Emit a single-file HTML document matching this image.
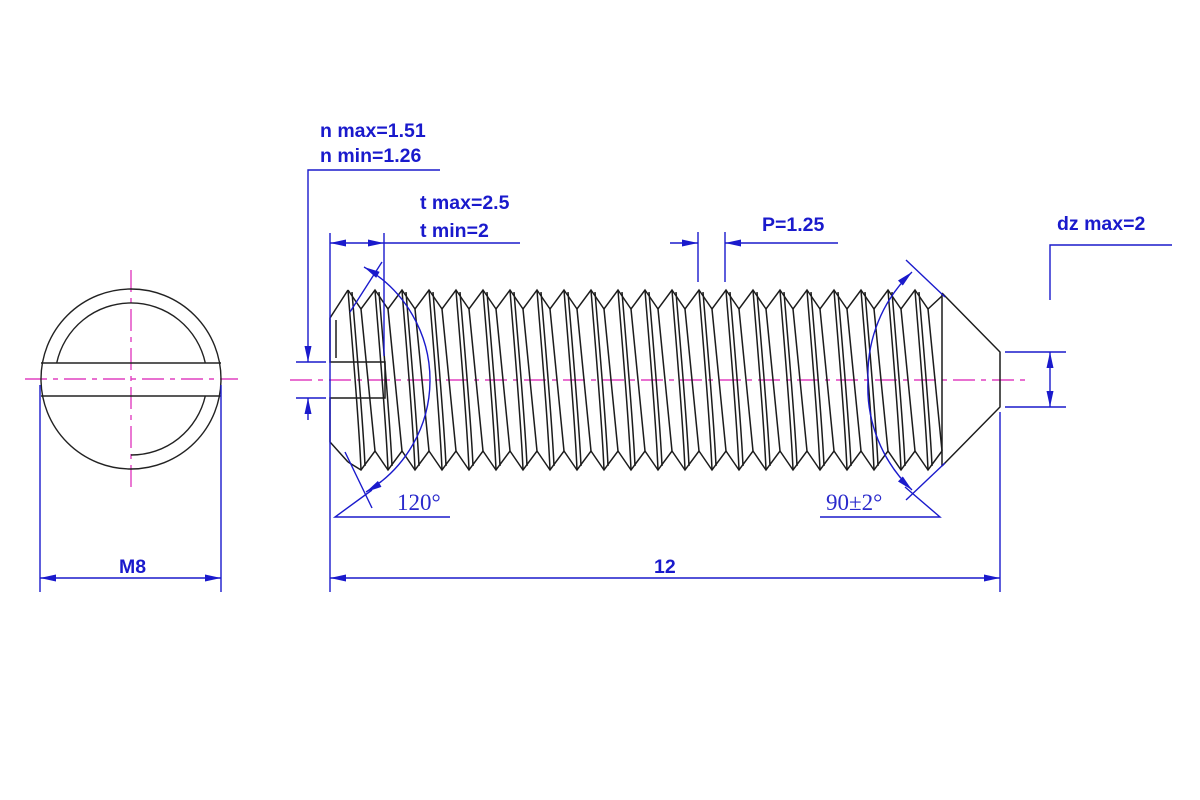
<!DOCTYPE html>
<html><head><meta charset="utf-8"><style>
html,body{margin:0;padding:0;background:#fff}
svg{display:block}
.d{font-family:"Liberation Sans",Arial,sans-serif;font-weight:bold;font-size:19.5px;fill:#1a1acc}
.s{font-family:"Liberation Serif",serif;font-size:23px;fill:#2a2acc}
</style></head><body>
<svg id="s" width="1200" height="800" viewBox="0 0 1200 800" xmlns="http://www.w3.org/2000/svg">
<defs>
<marker id="a" viewBox="0 0 16 7" refX="16" refY="3.5" markerWidth="16" markerHeight="7" markerUnits="userSpaceOnUse" orient="auto-start-reverse"><path d="M0,0 L16,3.5 L0,7 z" fill="#1a1acc"/></marker>
</defs>
<g stroke="#e040c0" stroke-width="1.4" stroke-dasharray="22,6,5,6" fill="none">
<line x1="25" y1="379" x2="238" y2="379"/>
<line x1="131" y1="270" x2="131" y2="490"/>
<line x1="290" y1="380" x2="1030" y2="380"/>
</g>
<g stroke="#222" stroke-width="1.4" fill="none">
<circle cx="131" cy="379" r="90"/>
<path d="M56.7,363 A76,76 0 0 1 205.3,363"/>
<path d="M205.3,396 A76,76 0 0 1 131,455"/>
<line x1="41" y1="363" x2="221" y2="363"/>
<line x1="41" y1="396" x2="221" y2="396"/>
</g>
<g id="body" stroke="#1c1c1c" stroke-width="1.5" fill="none">
<path d="M348,290 L330,318 L330,362 L385,362 L385,398 L330,398 L330,442 L348,462"/>
<path d="M942,293 L1000,352 L1000,407 L942,466"/>
<line x1="942" y1="293" x2="942" y2="466"/>
<line x1="336" y1="320" x2="336" y2="358"/>
</g>
<g stroke="#1a1acc" stroke-width="1.4" fill="none">
<polyline points="440,170 308,170 308,362" marker-end="url(#a)"/>
<line x1="308" y1="420" x2="308" y2="398" marker-end="url(#a)"/>
<line x1="296" y1="362" x2="326" y2="362"/>
<line x1="296" y1="398" x2="326" y2="398"/>
<line x1="330" y1="233" x2="330" y2="592"/>
<line x1="384" y1="233" x2="384" y2="356"/>
<line x1="357" y1="243" x2="330" y2="243" marker-end="url(#a)"/>
<line x1="357" y1="243" x2="384" y2="243" marker-end="url(#a)"/>
<line x1="384" y1="243" x2="520" y2="243"/>
<line x1="698" y1="232" x2="698" y2="282"/>
<line x1="725" y1="232" x2="725" y2="282"/>
<line x1="670" y1="243" x2="698" y2="243" marker-end="url(#a)"/>
<line x1="838" y1="243" x2="725" y2="243" marker-end="url(#a)"/>
<polyline points="1172,245 1050,245 1050,300"/>
<line x1="1050" y1="380" x2="1050" y2="352" marker-end="url(#a)"/>
<line x1="1050" y1="380" x2="1050" y2="407" marker-end="url(#a)"/>
<line x1="1005" y1="352" x2="1066" y2="352"/>
<line x1="1005" y1="407" x2="1066" y2="407"/>
<line x1="1000" y1="412" x2="1000" y2="592"/>
<line x1="665" y1="578" x2="330" y2="578" marker-end="url(#a)"/>
<line x1="665" y1="578" x2="1000" y2="578" marker-end="url(#a)"/>
<line x1="40" y1="385" x2="40" y2="592"/>
<line x1="221" y1="385" x2="221" y2="592"/>
<line x1="130" y1="578" x2="40" y2="578" marker-end="url(#a)"/>
<line x1="130" y1="578" x2="221" y2="578" marker-end="url(#a)"/>
<path d="M430,380 A130,130 0 0 0 364,267" marker-end="url(#a)"/>
<path d="M430,380 A130,130 0 0 1 366,492" marker-end="url(#a)"/>
<line x1="382" y1="262" x2="350" y2="312"/>
<line x1="345" y1="452" x2="372" y2="508"/>
<polyline points="450,517 335,517 372,490"/>
<path d="M868,380 A142,142 0 0 1 912,272" marker-end="url(#a)"/>
<path d="M868,380 A142,142 0 0 0 912,490" marker-end="url(#a)"/>
<line x1="906" y1="260" x2="945" y2="297"/>
<line x1="906" y1="500" x2="945" y2="463"/>
<polyline points="820,517 940,517 905,487"/>
</g>
<text class="d" x="320" y="137">n max=1.51</text>
<text class="d" x="320" y="162">n min=1.26</text>
<text class="d" x="420" y="209">t max=2.5</text>
<text class="d" x="420" y="237">t min=2</text>
<text class="d" x="762" y="231">P=1.25</text>
<text class="d" x="1057" y="230">dz max=2</text>
<text class="d" x="654" y="573">12</text>
<text class="d" x="119" y="573">M8</text>
<text class="s" x="397" y="510">120°</text>
<text class="s" x="826" y="510">90±2°</text>
<script>
(function(){
var g=document.getElementById('body'),ns='http://www.w3.org/2000/svg';
function p(d){var e=document.createElementNS(ns,'path');e.setAttribute('d',d);g.appendChild(e);}
var top='M348,290',bot='M348,462';
for(var k=0;k<22;k++){
 var x=348+27*k;
 top+=' L'+(x+13)+',309';
 if(k<21) top+=' L'+(x+27)+',290'; else top+=' L942,296';
 bot+=' L'+(x+13)+',470 L'+(x+27)+',451';
}
p(top);
p(bot);
for(var k=0;k<22;k++){
 var x=348+27*k;
 p('M'+x+',290 C'+(x+3)+',330 '+(x+11)+',420 '+(x+13)+',470');
 p('M'+(x+4)+',292 C'+(x+7)+',330 '+(x+15)+',420 '+(x+17)+',466');
 p('M'+(x+13)+',309 C'+(x+16)+',340 '+(x+24)+',420 '+(x+27)+',451');
}
})();
</script>
</svg>
</body></html>
